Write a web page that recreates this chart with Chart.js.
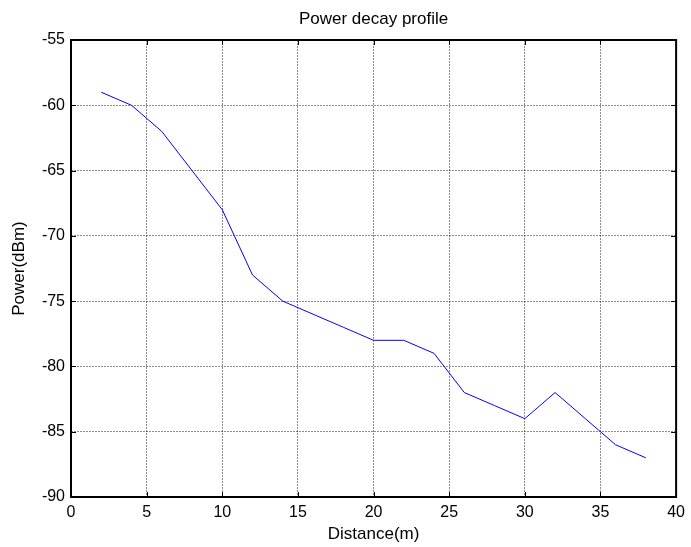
<!DOCTYPE html>
<html>
<head>
<meta charset="utf-8">
<script src="https://cdn.jsdelivr.net/npm/chart.js@4/dist/chart.umd.min.js"></script>
<style>
  html, body { margin: 0; padding: 0; background: #fff; }
  canvas { display: block; }
</style>
</head>
<body>
<canvas id="c" width="691" height="547"></canvas>
<script>
const distances = [2, 4, 6, 8, 10, 12, 14, 16, 18, 20, 22, 24, 26, 28, 30, 32, 34, 36, 38];
const powerDbm  = [-59, -60, -62, -65, -68, -73, -75, -76, -77, -78, -78, -79, -82, -83, -84, -82, -84, -86, -87];
const xTicks = [0, 5, 10, 15, 20, 25, 30, 35, 40];
const yTicks = [-90, -85, -80, -75, -70, -65, -60, -55];

const FONT = '"Liberation Sans", Arial, sans-serif';

const framePlugin = {
  id: 'frame',
  afterDraw(chart) {
    const { ctx, chartArea: a, scales } = chart;
    ctx.save();
    ctx.strokeStyle = '#000';
    ctx.lineWidth = 1;
    ctx.beginPath();
    const tl = 5;
    xTicks.forEach(v => {
      const px = Math.round(scales.x.getPixelForValue(v)) + 0.5;
      ctx.moveTo(px, a.bottom); ctx.lineTo(px, a.bottom - tl);
      ctx.moveTo(px, a.top); ctx.lineTo(px, a.top + tl);
    });
    yTicks.forEach(v => {
      const py = Math.round(scales.y.getPixelForValue(v)) + 0.5;
      ctx.moveTo(a.left, py); ctx.lineTo(a.left + tl, py);
      ctx.moveTo(a.right, py); ctx.lineTo(a.right - tl, py);
    });
    ctx.stroke();
    ctx.lineWidth = 2;
    ctx.strokeRect(a.left, a.top, a.right - a.left, a.bottom - a.top);
    ctx.restore();
  }
};

new Chart(document.getElementById('c'), {
  type: 'line',
  data: {
    datasets: [{
      data: distances.map((d, i) => ({ x: d, y: powerDbm[i] })),
      borderColor: '#0000ff',
      borderWidth: 1,
      pointRadius: 0,
      tension: 0,
      fill: false
    }]
  },
  options: {
    responsive: false,
    animation: false,
    devicePixelRatio: 1,
    layout: { padding: { left: 0, right: 13, top: 0, bottom: 0 } },
    plugins: {
      legend: { display: false },
      tooltip: { enabled: false },
      title: {
        display: true,
        fullSize: false,
        text: 'Power decay profile',
        color: '#000',
        font: { family: FONT, size: 17, weight: 'normal' },
        padding: { top: 9, bottom: 10.6 }
      }
    },
    scales: {
      x: {
        type: 'linear',
        min: 0, max: 40,
        afterBuildTicks(scale) { scale.ticks = xTicks.map(v => ({ value: v })); },
        afterFit(scale) { scale.height = 50; },
        ticks: {
          color: '#000',
          font: { family: FONT, size: 16 },
          padding: 6,
          maxRotation: 0,
          callback: v => String(v)
        },
        grid: {
          color: 'rgba(0,0,0,0.45)',
          lineWidth: 1,
          drawTicks: false,
          tickLength: 0
        },
        border: { display: false, dash: [2, 1] },
        title: {
          display: true,
          text: 'Distance(m)',
          color: '#000',
          font: { family: FONT, size: 17 },
          padding: { top: 0, bottom: 2.3 }
        }
      },
      y: {
        type: 'linear',
        min: -90, max: -55,
        afterBuildTicks(scale) { scale.ticks = yTicks.map(v => ({ value: v })); },
        afterFit(scale) { scale.width = 71; },
        ticks: {
          color: '#000',
          font: { family: FONT, size: 16 },
          padding: 6,
          callback: v => String(v)
        },
        grid: {
          color: 'rgba(0,0,0,0.45)',
          lineWidth: 1,
          drawTicks: false,
          tickLength: 0
        },
        border: { display: false, dash: [2, 1] },
        title: {
          display: true,
          text: 'Power(dBm)',
          color: '#000',
          font: { family: FONT, size: 17 },
          padding: { top: 8.8, bottom: 0 }
        }
      }
    }
  },
  plugins: [framePlugin]
});
</script>
</body>
</html>
